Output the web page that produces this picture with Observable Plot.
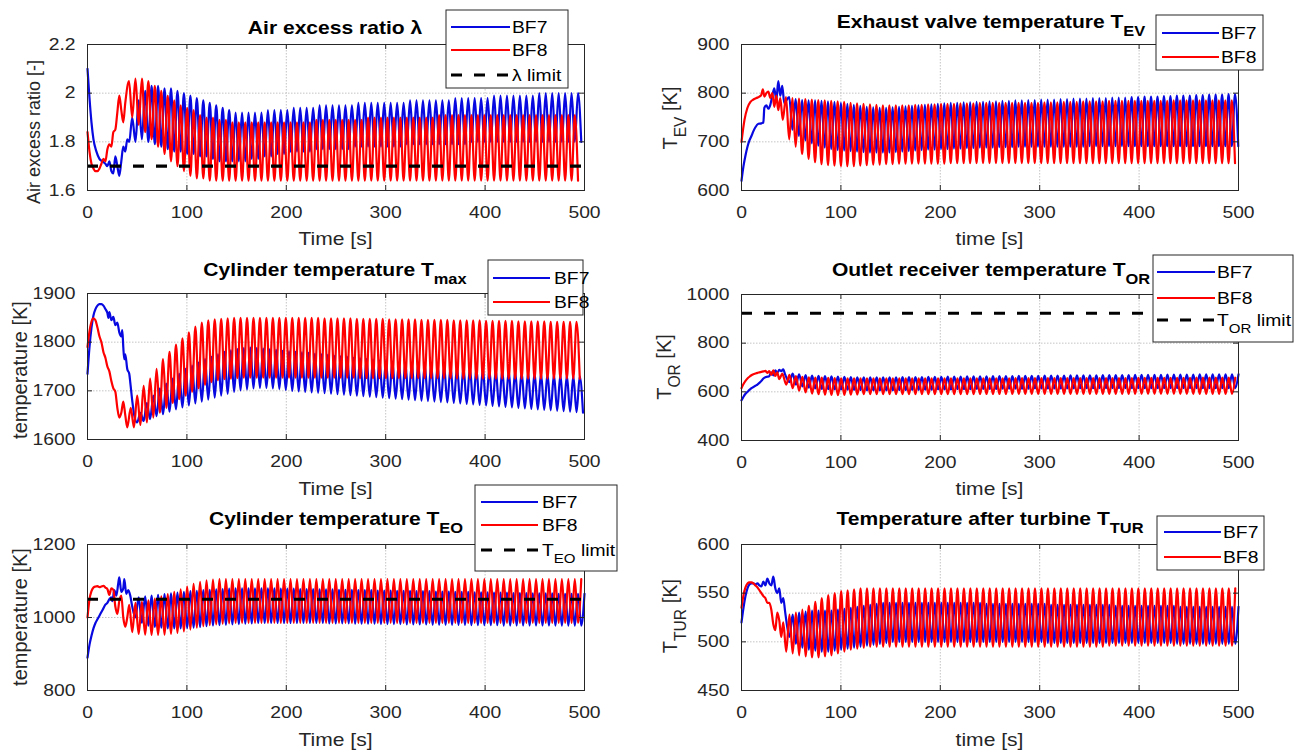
<!DOCTYPE html>
<html>
<head>
<meta charset="utf-8">
<script src="https://cdn.jsdelivr.net/npm/d3@7"></script>
<script src="https://cdn.jsdelivr.net/npm/@observablehq/plot@0.6"></script>
<style>
  html, body { margin: 0; padding: 0; background: #fff; }
  #chart { position: relative; width: 1304px; height: 752px; overflow: hidden; background: #fff; font-family: "Liberation Sans", Arial, sans-serif; }
</style>
</head>
<body>
<div id="chart"></div>
<script>
// ---------------- DATA ----------------
const X_TICKS = [0, 100, 200, 300, 400, 500];
const OSC_PERIOD = 6.5; // seconds between successive peaks

// Panel 1 : Air excess ratio lambda
const lamTicks = [1.6, 1.8, 2, 2.2];
const lamLimit = 1.7;
const lamBF7_t = [0,2,4,6,9,12,15,18,20,22,24,26,28,30,32,34,36,38,40,42];
const lamBF7_v = [2.10,1.98,1.88,1.81,1.76,1.73,1.72,1.71,1.70,1.72,1.68,1.67,1.74,1.70,1.66,1.72,1.78,1.76,1.81,1.80];
const lamBF7_pkStart = 45;
const lamBF7_pk = [1.90,1.97,2.01,2.03,2.03,2.02,2.02,2.01,2.00,1.99,
  1.98,1.97,1.96,1.95,1.94,1.93,1.92,1.92,1.92,1.92,
  1.92,1.93,1.93,1.93,1.93,1.94,1.94,1.94,1.94,1.95,
  1.95,1.95,1.95,1.95,1.95,1.96,1.96,1.96,1.96,1.96,
  1.96,1.96,1.96,1.97,1.97,1.97,1.97,1.97,1.97,1.97,
  1.98,1.98,1.98,1.98,1.98,1.98,1.99,1.99,1.99,1.99,
  1.99,1.99,1.99,2.00,2.00,2.00,2.00,2.00,2.00,2.00];
const lamBF7_trStart = 48.25;
const lamBF7_tr = [1.80,1.81,1.80,1.79,1.78,1.77,1.76,1.76,1.75,1.75,
  1.74,1.74,1.73,1.72,1.72,1.72,1.72,1.72,1.73,1.73,
  1.74,1.74,1.75,1.75,1.76,1.76,1.76,1.76,1.77,1.77,
  1.77,1.77,1.77,1.77,1.78,1.78,1.78,1.78,1.78,1.78,
  1.78,1.78,1.79,1.79,1.79,1.79,1.79,1.79,1.79,1.79,
  1.79,1.79,1.80,1.80,1.80,1.80,1.80,1.80,1.80,1.80,
  1.80,1.80,1.80,1.80,1.80,1.80,1.80,1.80,1.80,1.80];
const lamBF8_t = [0,2,4,6,8,10,12,14,16,18,20,22,24,26,28,30,32,34,36,38];
const lamBF8_v = [1.84,1.76,1.71,1.69,1.68,1.68,1.69,1.71,1.73,1.72,1.77,1.79,1.78,1.84,1.85,1.92,1.99,1.93,1.88,1.96];
const lamBF8_pkStart = 41.75;
const lamBF8_pk = [2.05,2.06,2.06,2.05,2.03,2.01,1.99,1.97,1.95,1.94,
  1.93,1.91,1.90,1.90,1.89,1.89,1.88,1.88,1.88,1.88,
  1.88,1.88,1.88,1.88,1.88,1.88,1.88,1.88,1.88,1.89,
  1.89,1.89,1.89,1.89,1.89,1.89,1.89,1.90,1.90,1.90,
  1.90,1.90,1.90,1.90,1.90,1.90,1.90,1.90,1.91,1.91,
  1.91,1.91,1.91,1.91,1.91,1.91,1.91,1.91,1.91,1.91,
  1.91,1.91,1.91,1.91,1.91,1.91,1.91,1.91,1.91,1.91];
const lamBF8_trStart = 45;
const lamBF8_tr = [1.90,1.87,1.84,1.81,1.78,1.75,1.72,1.70,1.68,1.66,
  1.65,1.65,1.64,1.64,1.64,1.64,1.64,1.64,1.64,1.64,
  1.64,1.64,1.64,1.64,1.64,1.64,1.64,1.64,1.64,1.64,
  1.64,1.64,1.64,1.64,1.64,1.64,1.64,1.64,1.64,1.64,
  1.64,1.64,1.64,1.64,1.64,1.64,1.64,1.64,1.64,1.64,
  1.64,1.64,1.64,1.64,1.64,1.64,1.64,1.64,1.64,1.64,
  1.64,1.64,1.64,1.64,1.64,1.64,1.64,1.64,1.64,1.64];

// Panel 2 : Exhaust valve temperature T_EV
const tevTicks = [600, 700, 800, 900];
const tevBF7_t = [0,2,4,6,8,10,12,14,17,20,22,23,25,27,29,31,33,35,37,39,41,43];
const tevBF7_v = [620,650,672,690,703,712,722,730,737,738,740,770,775,768,776,795,810,785,825,795,815,780];
const tevBF7_pkStart = 48;
const tevBF7_pk = [792,788,786,785,785,784,783,782,780,778,
  776,774,772,771,770,770,771,772,773,774,
  775,776,777,778,779,780,780,781,781,782,
  782,783,783,784,784,785,785,786,786,787,
  787,787,788,788,789,789,789,790,790,790,
  791,791,791,792,792,793,793,793,794,794,
  795,795,795,796,796,797,797,797,798,798];
const tevBF7_trStart = 51.25;
const tevBF7_tr = [725,712,703,697,692,688,685,683,682,681,
  680,679,678,678,678,678,679,680,681,682,
  683,684,684,685,685,686,686,687,687,688,
  688,688,689,689,689,690,690,690,690,690,
  690,690,690,690,690,690,691,691,691,691,
  691,691,691,691,691,691,691,691,691,691,
  691,691,691,691,691,691,691,691,691,691];
const tevBF8_t = [0,3,6,9,12,15,18,20,21.5,23,25,27,29,31,33,35,37,39,41.5];
const tevBF8_v = [700,745,770,782,787,790,793,797,808,793,800,803,790,800,772,795,765,790,745];
const tevBF8_pkStart = 44.75;
const tevBF8_pk = [792,790,789,788,787,786,785,784,783,782,
  780,779,778,777,776,775,775,775,775,775,
  776,776,777,777,778,778,778,779,779,779,
  780,780,780,780,780,780,780,780,780,780,
  781,781,781,782,782,782,783,783,783,783,
  784,784,784,784,784,784,784,784,784,784,
  785,785,785,785,785,785,785,785,785,785];
const tevBF8_trStart = 48;
const tevBF8_tr = [705,690,675,665,658,654,652,651,650,650,
  650,651,652,653,653,654,654,655,655,655,
  655,655,655,655,655,656,656,656,656,656,
  656,656,656,656,656,656,656,656,656,656,
  656,656,656,656,656,656,656,656,656,656,
  656,656,656,656,656,656,656,656,656,656,
  656,656,656,656,656,656,656,656,656,656];

// Panel 3 : Cylinder temperature T_max
const tmxTicks = [1600, 1700, 1800, 1900];
const tmxBF7_t = [0,2,4,6,8,10,12,14,16,18,20,21,22,24,26,28,30,32,34,35,36,37,38,40,42,43,45,47];
const tmxBF7_v = [1735,1790,1830,1855,1868,1875,1878,1878,1875,1868,1860,1850,1862,1845,1852,1835,1840,1820,1812,1825,1790,1765,1775,1745,1735,1718,1680,1650];
const tmxBF7_pkStart = 53.25;
const tmxBF7_pk = [1655,1675,1690,1705,1715,1725,1735,1745,1752,1758,
  1765,1770,1775,1780,1783,1786,1788,1789,1788,1787,
  1785,1784,1782,1781,1780,1779,1778,1776,1775,1774,
  1772,1771,1770,1768,1767,1765,1764,1762,1761,1760,
  1758,1757,1756,1755,1754,1753,1752,1751,1750,1749,
  1748,1747,1746,1745,1744,1743,1742,1741,1740,1739,
  1738,1737,1736,1735,1734,1733,1732,1731,1730,1730];
const tmxBF7_trStart = 50;
const tmxBF7_tr = [1635,1638,1642,1648,1652,1657,1662,1666,1670,1674,
  1678,1682,1686,1690,1694,1698,1701,1703,1705,1706,
  1706,1705,1704,1702,1700,1699,1698,1697,1696,1695,
  1694,1693,1692,1691,1690,1689,1688,1687,1686,1685,
  1684,1683,1682,1681,1680,1679,1678,1677,1676,1675,
  1674,1673,1672,1671,1670,1669,1668,1667,1666,1665,
  1664,1663,1662,1661,1660,1659,1658,1657,1656,1655];
const tmxBF8_t = [0,2,4,6,8,10,12,14,16,18,20,22,24,26,28,30,32,34,36,38,40];
const tmxBF8_v = [1790,1822,1842,1849,1845,1830,1812,1800,1780,1768,1750,1740,1720,1705,1698,1665,1645,1655,1678,1650,1625];
const tmxBF8_pkStart = 43.5;
const tmxBF8_pk = [1665,1690,1710,1725,1745,1765,1780,1795,1808,1820,
  1832,1840,1845,1847,1848,1849,1850,1850,1850,1850,
  1850,1850,1850,1850,1850,1850,1850,1850,1850,1850,
  1849,1849,1849,1849,1849,1848,1848,1848,1848,1848,
  1847,1847,1847,1847,1847,1846,1846,1846,1846,1846,
  1845,1845,1845,1845,1845,1844,1844,1844,1844,1844,
  1843,1843,1843,1843,1843,1842,1842,1842,1842,1842];
const tmxBF8_trStart = 46.75;
const tmxBF8_tr = [1625,1630,1635,1645,1655,1665,1675,1683,1690,1698,
  1705,1712,1718,1722,1724,1725,1726,1727,1727,1727,
  1727,1727,1727,1727,1727,1727,1727,1727,1727,1727,
  1727,1727,1727,1727,1727,1726,1726,1726,1726,1726,
  1726,1726,1726,1726,1726,1726,1726,1726,1726,1726,
  1725,1725,1725,1725,1725,1725,1725,1725,1725,1725,
  1725,1725,1725,1725,1725,1725,1725,1725,1725,1725];

// Panel 4 : Outlet receiver temperature T_OR
const torTicks = [400, 600, 800, 1000];
const torLimit = 923;
const torBF7_t = [0,2,4,6,8,10,12,14,16,18,20,22,24,26,28,30,32,34,36,38,40,42,44];
const torBF7_v = [565,580,592,600,608,615,620,625,630,637,645,655,660,662,665,680,668,688,678,690,685,692,670];
const torBF7_pkStart = 51.5;
const torBF7_pk = [675,672,669,667,666,665,664,663,662,661,
  660,660,660,660,660,660,660,661,661,661,
  661,662,662,662,663,663,663,664,664,664,
  664,665,665,665,665,666,666,666,666,667,
  667,667,667,668,668,668,668,668,669,669,
  669,669,669,670,670,670,670,670,671,671,
  671,671,671,672,672,672,672,672,672,672];
const torBF7_trStart = 48.25;
const torBF7_tr = [640,630,622,617,614,612,611,610,610,609,
  608,607,606,606,606,606,606,607,607,608,
  608,609,609,610,610,610,611,611,611,612,
  612,612,612,613,613,613,613,613,614,614,
  614,614,614,614,614,615,615,615,615,615,
  615,615,615,615,615,615,615,615,615,615,
  615,615,615,615,615,615,615,615,615,615];
const torBF8_t = [0,2,4,6,8,10,12,14,16,18,20,22,24,26,28,30,32,34,36,38,41];
const torBF8_v = [615,632,645,655,662,668,672,675,678,680,682,684,686,678,685,670,688,665,680,652,675];
const torBF8_pkStart = 48.25;
const torBF8_pk = [670,665,662,660,659,658,657,656,655,655,
  655,655,655,655,655,655,655,655,655,655,
  655,655,655,655,655,655,655,655,655,655,
  655,655,655,655,655,656,656,656,656,656,
  656,656,656,656,656,656,656,656,656,656,
  656,656,656,656,657,657,657,657,657,657,
  657,657,657,658,658,658,658,658,658,658];
const torBF8_trStart = 45;
const torBF8_tr = [630,615,605,598,593,590,588,587,586,587,
  588,589,590,590,590,590,590,590,590,590,
  590,590,590,590,590,590,590,590,590,590,
  591,591,591,591,591,591,591,591,591,591,
  591,591,591,591,591,591,591,591,591,591,
  592,592,592,592,592,592,592,592,592,592,
  592,592,592,592,592,592,592,592,592,592];

// Panel 5 : Cylinder temperature T_EO
const teoTicks = [800, 1000, 1200];
const teoLimit = 1050;
const teoBF7_t = [0,2,4,6,8,10,12,14,16,18,20,22,24,25,27,29,31,32,34,36,37,39,41,43,45];
const teoBF7_v = [890,925,950,970,985,995,1005,1015,1025,1035,1040,1050,1055,1045,1075,1060,1095,1110,1070,1080,1105,1065,1075,1060,1030];
const teoBF7_pkStart = 51.5;
const teoBF7_pk = [1055,1058,1060,1062,1064,1066,1068,1070,1072,1073,
  1075,1076,1077,1078,1079,1080,1080,1080,1080,1080,
  1080,1080,1079,1079,1079,1078,1078,1078,1077,1077,
  1077,1076,1076,1076,1075,1075,1075,1074,1074,1074,
  1073,1073,1073,1072,1072,1072,1071,1071,1071,1070,
  1070,1070,1069,1069,1069,1068,1068,1068,1067,1067,
  1067,1066,1066,1066,1066,1065,1065,1065,1065,1065];
const teoBF7_trStart = 48.25;
const teoBF7_tr = [1000,985,978,974,972,970,970,970,971,972,
  974,976,978,979,980,981,982,983,984,985,
  985,985,985,985,985,985,985,985,985,985,
  984,984,984,984,983,983,983,983,982,982,
  982,982,981,981,981,981,980,980,980,980,
  980,980,979,979,979,979,979,978,978,978,
  978,978,978,978,978,978,978,978,978,978];
const teoBF8_t = [0,2,4,6,8,10,12,14,16,18,20,22,24,26,28,30,32,34,36,38,40,42];
const teoBF8_v = [1000,1050,1072,1082,1085,1086,1083,1085,1087,1082,1078,1062,1080,1076,1030,1010,1045,1060,1000,975,1000,1035];
const teoBF8_pkStart = 48.25;
const teoBF8_pk = [1040,1043,1047,1052,1058,1064,1070,1077,1085,1092,
  1098,1102,1104,1105,1105,1105,1105,1105,1105,1105,
  1105,1105,1105,1105,1105,1105,1105,1105,1105,1105,
  1105,1105,1105,1105,1105,1105,1105,1105,1105,1105,
  1105,1105,1105,1105,1105,1105,1105,1105,1105,1105,
  1105,1105,1105,1105,1105,1105,1105,1105,1105,1105,
  1105,1105,1105,1105,1105,1105,1105,1105,1105,1105];
const teoBF8_trStart = 45;
const teoBF8_tr = [960,955,953,952,952,953,955,958,962,967,
  972,976,979,981,983,984,985,985,985,985,
  985,985,985,985,985,985,985,985,985,985,
  985,985,985,985,985,985,985,985,985,985,
  985,985,985,985,985,985,985,985,985,985,
  985,985,985,985,985,985,985,985,985,985,
  985,985,985,985,985,985,985,985,985,985];

// Panel 6 : Temperature after turbine T_TUR
const turTicks = [450, 500, 550, 600];
const turBF7_t = [0,2,4,6,8,10,12,14,16,18,20,22,24,26,28,30,32,34,36,38,40,42,44];
const turBF7_v = [520,535,547,555,559,560,560,559,560,558,557,562,558,565,560,558,567,555,550,555,540,545,530];
const turBF7_pkStart = 51.5;
const turBF7_pk = [528,530,531,532,532,532,532,533,534,535,
  536,537,538,539,540,540,540,540,540,540,
  540,540,540,540,540,540,540,540,540,540,
  539,539,539,539,539,539,539,539,539,539,
  538,538,538,538,538,538,538,538,538,538,
  537,537,537,537,537,537,537,537,537,537,
  536,536,536,536,536,536,536,536,536,536];
const turBF7_trStart = 48.25;
const turBF7_tr = [505,498,494,492,491,490,490,491,492,493,
  494,495,496,497,498,499,500,500,500,500,
  500,500,500,500,500,500,500,500,500,500,
  500,500,500,500,500,500,500,500,500,500,
  499,499,499,499,499,499,499,499,499,499,
  499,499,499,499,499,499,499,499,499,499,
  498,498,498,498,498,498,498,498,498,498];
const turBF8_t = [0,2,4,6,8,10,12,14,16,18,20,22,24,26,28,30,32,34,36,38,40,42];
const turBF8_v = [535,548,556,560,561,561,560,558,556,553,550,547,545,540,540,533,518,512,530,522,505,520];
const turBF8_pkStart = 48.25;
const turBF8_pk = [528,530,533,537,541,545,548,550,552,553,
  554,555,555,555,555,555,555,555,555,555,
  555,555,555,555,555,555,555,555,555,555,
  555,555,555,555,555,555,555,555,555,555,
  555,555,555,555,555,555,555,555,555,555,
  555,555,555,555,555,555,555,555,555,555,
  555,555,555,555,555,555,555,555,555,555];
const turBF8_trStart = 45;
const turBF8_tr = [490,488,486,485,484,484,485,486,488,490,
  492,493,494,495,495,495,495,495,495,495,
  495,495,495,495,495,495,495,495,495,495,
  495,495,495,495,495,495,495,495,495,495,
  495,495,495,495,495,495,495,495,495,495,
  496,496,496,496,496,496,496,496,496,496,
  496,496,496,496,496,496,496,496,496,496];

// ---------------- BUILD ----------------
function series(ts, vs, pkStart, pk, trStart, tr) {
  const pts = ts.map((t, i) => ({t, v: vs[i]}));
  pk.forEach((v, k) => pts.push({t: pkStart + k * OSC_PERIOD, v}));
  tr.forEach((v, k) => pts.push({t: trStart + k * OSC_PERIOD, v}));
  return pts.filter(d => d.t <= 500).sort((a, b) => a.t - b.t);
}

const BLUE = "#0808e0", RED = "#ff0000";
const SX = 1.17; // horizontal stretch of the reference's lettering
const root = document.getElementById("chart");

const panels = [
  {left: 0, top: 0, width: 620, height: 250, ml: 87, mr: 36, mt: 44, mb: 60, ticks: lamTicks, limit: lamLimit,
   bf7: series(lamBF7_t, lamBF7_v, lamBF7_pkStart, lamBF7_pk, lamBF7_trStart, lamBF7_tr),
   bf8: series(lamBF8_t, lamBF8_v, lamBF8_pkStart, lamBF8_pk, lamBF8_trStart, lamBF8_tr)},
  {left: 640, top: 0, width: 664, height: 250, ml: 101, mr: 66, mt: 44, mb: 60, ticks: tevTicks, limit: null,
   bf7: series(tevBF7_t, tevBF7_v, tevBF7_pkStart, tevBF7_pk, tevBF7_trStart, tevBF7_tr),
   bf8: series(tevBF8_t, tevBF8_v, tevBF8_pkStart, tevBF8_pk, tevBF8_trStart, tevBF8_tr)},
  {left: 0, top: 250, width: 620, height: 250, ml: 87, mr: 36, mt: 43, mb: 61, ticks: tmxTicks, limit: null,
   bf7: series(tmxBF7_t, tmxBF7_v, tmxBF7_pkStart, tmxBF7_pk, tmxBF7_trStart, tmxBF7_tr),
   bf8: series(tmxBF8_t, tmxBF8_v, tmxBF8_pkStart, tmxBF8_pk, tmxBF8_trStart, tmxBF8_tr)},
  {left: 640, top: 250, width: 664, height: 250, ml: 101, mr: 66, mt: 44, mb: 60, ticks: torTicks, limit: torLimit,
   bf7: series(torBF7_t, torBF7_v, torBF7_pkStart, torBF7_pk, torBF7_trStart, torBF7_tr),
   bf8: series(torBF8_t, torBF8_v, torBF8_pkStart, torBF8_pk, torBF8_trStart, torBF8_tr)},
  {left: 0, top: 500, width: 620, height: 252, ml: 87, mr: 36, mt: 44, mb: 62, ticks: teoTicks, limit: teoLimit,
   bf7: series(teoBF7_t, teoBF7_v, teoBF7_pkStart, teoBF7_pk, teoBF7_trStart, teoBF7_tr),
   bf8: series(teoBF8_t, teoBF8_v, teoBF8_pkStart, teoBF8_pk, teoBF8_trStart, teoBF8_tr)},
  {left: 640, top: 500, width: 664, height: 252, ml: 101, mr: 66, mt: 44, mb: 62, ticks: turTicks, limit: null,
   bf7: series(turBF7_t, turBF7_v, turBF7_pkStart, turBF7_pk, turBF7_trStart, turBF7_tr),
   bf8: series(turBF8_t, turBF8_v, turBF8_pkStart, turBF8_pk, turBF8_trStart, turBF8_tr)}
];

panels.forEach(p => {
  const plotW = p.width - p.ml - p.mr, plotH = p.height - p.mt - p.mb;
  const gridStyle = {stroke: "#c4c4c4", strokeWidth: 1, strokeDasharray: "1.5,1.5"};
  const tickStyle = {stroke: "#262626", strokeWidth: 1};
  const marks = [
    Plot.ruleX(X_TICKS, gridStyle),
    Plot.ruleY(p.ticks, gridStyle),
    Plot.line(p.bf7, {x: "t", y: "v", stroke: BLUE, strokeWidth: 2.2, curve: "monotone-x"}),
    Plot.line(p.bf8, {x: "t", y: "v", stroke: RED, strokeWidth: 2.2, curve: "monotone-x"})
  ];
  if (p.limit != null) marks.push(Plot.ruleY([p.limit], {stroke: "#000", strokeWidth: 3.2, strokeDasharray: "11,12"}));
  marks.push(
    Plot.ruleX(X_TICKS, {...tickStyle, insetTop: plotH - 5}),
    Plot.ruleX(X_TICKS, {...tickStyle, insetBottom: plotH - 5}),
    Plot.ruleY(p.ticks, {...tickStyle, insetRight: plotW - 5}),
    Plot.ruleY(p.ticks, {...tickStyle, insetLeft: plotW - 5}),
    Plot.frame({stroke: "#262626", strokeWidth: 1})
  );
  const svg = Plot.plot({
    width: p.width, height: p.height,
    marginLeft: p.ml, marginRight: p.mr, marginTop: p.mt, marginBottom: p.mb,
    style: {fontFamily: "'Liberation Sans', Arial, sans-serif", fontSize: "16.5px", color: "#262626", background: "transparent", overflow: "visible"},
    x: {domain: [0, 500], ticks: X_TICKS, tickFormat: d => String(d), tickSize: 0, tickPadding: 16, label: null},
    y: {domain: [p.ticks[0], p.ticks[p.ticks.length - 1]], ticks: p.ticks, tickFormat: d => String(d), tickSize: 0, tickPadding: 12, label: null},
    marks
  });
  svg.style.position = "absolute";
  svg.style.left = p.left + "px";
  svg.style.top = p.top + "px";
  svg.querySelectorAll("text").forEach(t => {
    const tr = t.getAttribute("transform") || "";
    t.setAttribute("transform", (tr + ` scale(${SX},1)`).trim());
  });
  root.appendChild(svg);
});

// ---------------- OVERLAY: titles, axis labels, legends ----------------
const ov = d3.select(root).append("svg")
  .attr("width", 1304).attr("height", 752)
  .style("position", "absolute").style("left", "0px").style("top", "0px")
  .style("font-family", "'Liberation Sans', Arial, sans-serif");

function addParts(t, parts, size) {
  let shift = 0;
  parts.forEach(p => {
    const sp = t.append("tspan").text(p.text);
    if (p.sub) {
      sp.attr("font-size", size * 0.78).attr("dy", size * 0.45 - shift);
      shift = size * 0.45;
    } else if (shift) {
      sp.attr("dy", -shift);
      shift = 0;
    }
  });
}
function hText(x, y, parts, size, weight, anchor, fill) {
  const t = ov.append("text")
    .attr("transform", `translate(${x},${y}) scale(${SX},1)`)
    .attr("text-anchor", anchor).attr("font-size", size)
    .attr("font-weight", weight).attr("fill", fill);
  addParts(t, parts, size);
}
function vText(x, y, parts, size) {
  const t = ov.append("text")
    .attr("transform", `translate(${x},${y}) rotate(-90)`)
    .attr("text-anchor", "middle").attr("font-size", size).attr("fill", "#262626");
  addParts(t, parts, size);
}
function legend(box, rows, lx1, lx2, tx) {
  ov.append("rect").attr("x", box[0]).attr("y", box[1]).attr("width", box[2] - box[0]).attr("height", box[3] - box[1])
    .attr("fill", "#fff").attr("stroke", "#262626").attr("stroke-width", 1);
  rows.forEach(r => {
    ov.append("line").attr("x1", lx1).attr("x2", lx2).attr("y1", r.y).attr("y2", r.y)
      .attr("stroke", r.color).attr("stroke-width", r.dash ? 3.2 : 2.2)
      .attr("stroke-dasharray", r.dash ? "11,12" : null);
    hText(tx, r.y + 6, r.parts, 16.5, "normal", "start", "#000");
  });
}

// titles
hText(335, 34, [{text: "Air excess ratio \u03bb"}], 18, "bold", "middle", "#000");
hText(991, 28, [{text: "Exhaust valve temperature T"}, {text: "EV", sub: true}], 18, "bold", "middle", "#000");
hText(335, 276, [{text: "Cylinder temperature T"}, {text: "max", sub: true}], 18, "bold", "middle", "#000");
hText(991, 276, [{text: "Outlet receiver temperature T"}, {text: "OR", sub: true}], 18, "bold", "middle", "#000");
hText(336, 525, [{text: "Cylinder temperature T"}, {text: "EO", sub: true}], 18, "bold", "middle", "#000");
hText(990, 525, [{text: "Temperature after turbine T"}, {text: "TUR", sub: true}], 18, "bold", "middle", "#000");

// x axis labels
hText(335.5, 245, [{text: "Time [s]"}], 18, "normal", "middle", "#262626");
hText(989.5, 245, [{text: "time [s]"}], 18, "normal", "middle", "#262626");
hText(335.5, 495, [{text: "Time [s]"}], 18, "normal", "middle", "#262626");
hText(989.5, 495, [{text: "time [s]"}], 18, "normal", "middle", "#262626");
hText(335.5, 746, [{text: "Time [s]"}], 18, "normal", "middle", "#262626");
hText(989.5, 746, [{text: "time [s]"}], 18, "normal", "middle", "#262626");

// y axis labels
vText(40, 132, [{text: "Air excess ratio [-]"}], 18);
vText(677, 118, [{text: "T"}, {text: "EV", sub: true}, {text: " [K]"}], 20);
vText(27, 370, [{text: "temperature [K]"}], 20);
vText(671, 367, [{text: "T"}, {text: "OR", sub: true}, {text: " [K]"}], 20);
vText(27, 617, [{text: "temperature [K]"}], 20);
vText(677, 616, [{text: "T"}, {text: "TUR", sub: true}, {text: " [K]"}], 20);

// legends
legend([446, 10, 568, 88], [
  {y: 27, color: BLUE, parts: [{text: "BF7"}]},
  {y: 50, color: RED, parts: [{text: "BF8"}]},
  {y: 75, color: "#000", dash: true, parts: [{text: "\u03bb limit"}]}
], 451, 510, 512);
legend([1156, 15, 1263, 70], [
  {y: 33, color: BLUE, parts: [{text: "BF7"}]},
  {y: 57, color: RED, parts: [{text: "BF8"}]}
], 1162, 1219, 1221);
legend([488, 260, 583, 315], [
  {y: 278, color: BLUE, parts: [{text: "BF7"}]},
  {y: 302, color: RED, parts: [{text: "BF8"}]}
], 493, 550, 554);
legend([1153, 255, 1293, 342], [
  {y: 272, color: BLUE, parts: [{text: "BF7"}]},
  {y: 298, color: RED, parts: [{text: "BF8"}]},
  {y: 320, color: "#000", dash: true, parts: [{text: "T"}, {text: "OR", sub: true}, {text: " limit"}]}
], 1157, 1215, 1217);
legend([475, 485, 617, 571], [
  {y: 502, color: BLUE, parts: [{text: "BF7"}]},
  {y: 525, color: RED, parts: [{text: "BF8"}]},
  {y: 550, color: "#000", dash: true, parts: [{text: "T"}, {text: "EO", sub: true}, {text: " limit"}]}
], 481, 538, 542);
legend([1157, 516, 1264, 570], [
  {y: 532, color: BLUE, parts: [{text: "BF7"}]},
  {y: 557, color: RED, parts: [{text: "BF8"}]}
], 1164, 1221, 1223);
</script>
</body>
</html>
